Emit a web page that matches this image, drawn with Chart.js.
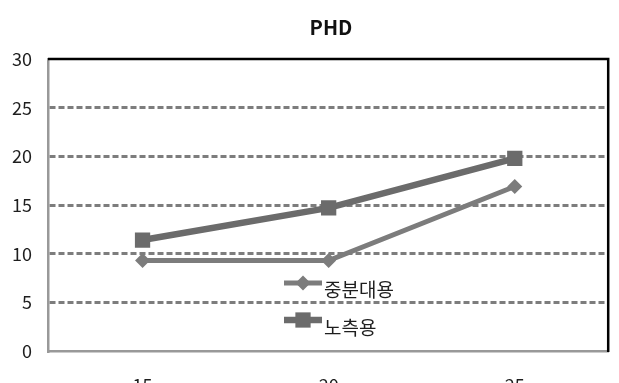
<!DOCTYPE html>
<html>
<head>
<meta charset="utf-8">
<script src="https://cdn.jsdelivr.net/npm/chart.js@4/dist/chart.umd.min.js"></script>
<style>
  html, body { margin: 0; padding: 0; background: #fff; }
  #wrap { width: 619px; height: 383px; }
</style>
</head>
<body>
<div id="wrap"><canvas id="c" width="619" height="383"></canvas></div>
<script>
// PHD by distance
const categories = [15, 20, 25];
const midDivider = [9.3, 9.3, 16.9];   // 중분대용
const roadside = [11.4, 14.7, 19.8];   // 노측용
const yTicks = [0, 5, 10, 15, 20, 25, 30];
const seriesNames = ['중분대용', '노측용'];
const chartTitle = 'PHD';

const KR = '"Noto Sans CJK KR", "Noto Sans", sans-serif';

const toPoints = vals => categories.map((c, i) => ({ x: c, y: vals[i] }));

// Title drawn centred over the plot area
const titlePlugin = {
  id: 'phdTitle',
  afterDraw(chart) {
    const { ctx } = chart;
    ctx.save();
    ctx.fillStyle = '#111';
    ctx.font = 'bold 20px ' + KR;
    ctx.textAlign = 'center';
    ctx.textBaseline = 'middle';
    ctx.fillText(chartTitle, 331, 27);
    ctx.restore();
  }
};

// Black top and right edges of the plot frame
const framePlugin = {
  id: 'frame',
  afterDraw(chart) {
    const { ctx, chartArea: a } = chart;
    ctx.save();
    ctx.strokeStyle = '#000';
    ctx.lineWidth = 2.5;
    ctx.beginPath();
    ctx.moveTo(a.left, a.top);
    ctx.lineTo(a.right, a.top);
    ctx.lineTo(a.right, a.bottom + 1);
    ctx.stroke();
    ctx.restore();
  }
};

function drawMarker(ctx, style, x, y, r, color) {
  ctx.fillStyle = color;
  ctx.beginPath();
  if (style === 'rect') {
    const s = r * Math.SQRT1_2;
    ctx.rect(x - s, y - s, 2 * s, 2 * s);
  } else {
    ctx.moveTo(x, y - r);
    ctx.lineTo(x + r, y);
    ctx.lineTo(x, y + r);
    ctx.lineTo(x - r, y);
    ctx.closePath();
  }
  ctx.fill();
}

// Legend placed inside the plot area, one row per series
const innerLegend = {
  id: 'innerLegend',
  afterDatasetsDraw(chart) {
    const { ctx } = chart;
    const rows = [
      { lineY: 283, textY: 290 },
      { lineY: 320, textY: 328 }
    ];
    ctx.save();
    chart.data.datasets.forEach((ds, i) => {
      const r = rows[i];
      const x0 = 284, x1 = 322, xm = 303;
      ctx.strokeStyle = ds.borderColor;
      ctx.lineWidth = ds.borderWidth;
      ctx.beginPath();
      ctx.moveTo(x0, r.lineY);
      ctx.lineTo(x1, r.lineY);
      ctx.stroke();
      drawMarker(ctx, ds.pointStyle, xm, r.lineY, ds.pointRadius, ds.backgroundColor);
      ctx.fillStyle = '#1e1e1e';
      ctx.font = '19px ' + KR;
      ctx.textAlign = 'left';
      ctx.textBaseline = 'middle';
      ctx.fillText(ds.label, 324, r.textY);
    });
    ctx.restore();
  }
};

new Chart(document.getElementById('c'), {
  type: 'line',
  data: {
    datasets: [
      {
        label: seriesNames[0],
        data: toPoints(midDivider),
        borderColor: '#7c7c7c',
        backgroundColor: '#7c7c7c',
        borderWidth: 5,
        pointStyle: 'rectRot',
        pointRadius: 7.5,
        pointHoverRadius: 7.5,
        pointBorderWidth: 0,
        tension: 0
      },
      {
        label: seriesNames[1],
        data: toPoints(roadside),
        borderColor: '#6b6b6b',
        backgroundColor: '#6b6b6b',
        borderWidth: 6.5,
        pointStyle: 'rect',
        pointRadius: 10.8,
        pointHoverRadius: 10.8,
        pointBorderWidth: 0,
        tension: 0
      }
    ]
  },
  options: {
    responsive: false,
    animation: false,
    layout: { padding: { top: 59, right: 7, left: 0, bottom: 0 } },
    plugins: {
      legend: { display: false },
      title: { display: false },
      tooltip: { enabled: false }
    },
    scales: {
      x: {
        type: 'linear',
        min: 12.46,
        max: 27.51,
        afterBuildTicks: axis => { axis.ticks = categories.map(v => ({ value: v })); },
        afterFit: axis => { axis.height = 32; },
        grid: { display: false, drawTicks: false },
        border: { display: true, color: '#999999', width: 2.5 },
        ticks: {
          padding: 23,
          color: '#1e1e1e',
          font: { family: KR, size: 18 },
          autoSkip: false,
          maxRotation: 0
        }
      },
      y: {
        min: 0,
        max: 30,
        afterBuildTicks: axis => { axis.ticks = yTicks.map(v => ({ value: v })); },
        afterFit: axis => { axis.width = 48; },
        grid: {
          drawTicks: false,
          lineWidth: 3,
          color: ctx => (ctx.tick && (ctx.tick.value === 0 || ctx.tick.value === 30)) ? 'rgba(0,0,0,0)' : '#7d7d7d'
        },
        border: { display: true, color: '#999999', width: 2.5, dash: [6, 3] },
        ticks: {
          padding: 16,
          color: '#1e1e1e',
          font: { family: KR, size: 18 }
        }
      }
    }
  },
  plugins: [titlePlugin, framePlugin, innerLegend]
});
</script>
</body>
</html>
